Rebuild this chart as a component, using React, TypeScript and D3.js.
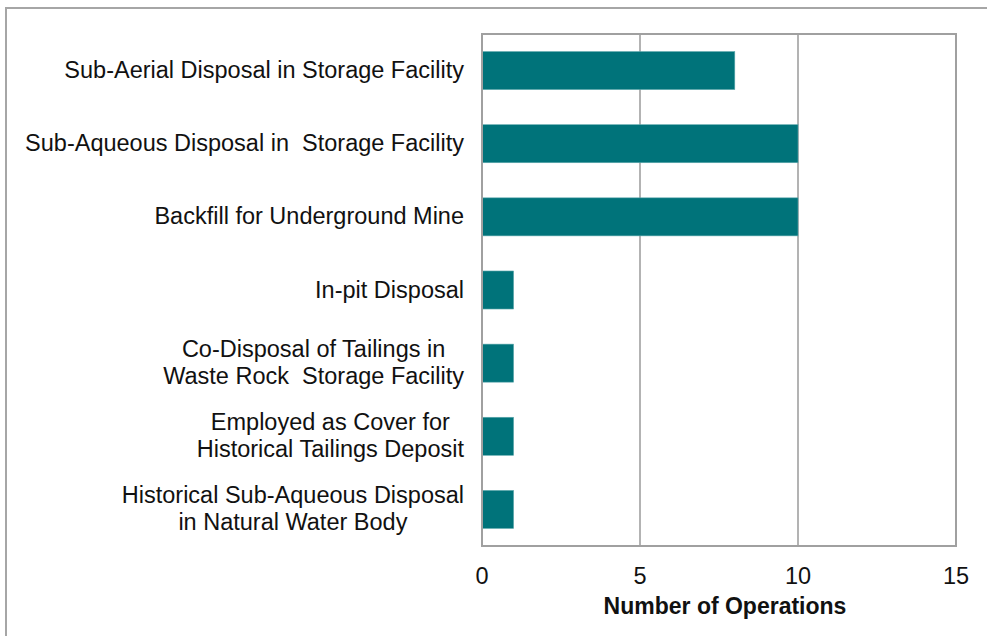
import React, { useEffect, useRef } from "react";
import * as d3 from "d3";

const categories: string[][] = [
  ["Sub-Aerial Disposal in Storage Facility"],
  ["Sub-Aqueous Disposal in  Storage Facility"],
  ["Backfill for Underground Mine"],
  ["In-pit Disposal"],
  ["Co-Disposal of Tailings in", "Waste Rock  Storage Facility"],
  ["Employed as Cover for", "Historical Tailings Deposit"],
  ["Historical Sub-Aqueous Disposal", "in Natural Water Body"],
];
const values: number[] = [8, 10, 10, 1, 1, 1, 1];
const xTicks: number[] = [0, 5, 10, 15];
const xTitle = "Number of Operations";

const W = 987;
const H = 636;
const plot = { left: 482, right: 956, top: 34, bottom: 546 };
const FONT = "'Liberation Sans', Arial, sans-serif";

export default function App() {
  const ref = useRef<SVGSVGElement>(null);

  useEffect(() => {
    const svg = d3.select(ref.current);
    svg.selectAll("*").remove();

    const x = d3.scaleLinear().domain([0, 15]).range([plot.left, plot.right]);
    const y = d3
      .scaleBand<number>()
      .domain(d3.range(categories.length))
      .range([plot.top, plot.bottom])
      .paddingInner(0.48)
      .paddingOuter(0.24);

    svg.append("rect").attr("x", 0).attr("y", 0).attr("width", W).attr("height", H).attr("fill", "#fff");
    // outer chart border
    svg
      .append("rect")
      .attr("x", 6)
      .attr("y", 8)
      .attr("width", W + 10)
      .attr("height", H + 10)
      .attr("fill", "none")
      .attr("stroke", "#a6a6a6")
      .attr("stroke-width", 2);

    // gridlines
    svg
      .append("g")
      .selectAll("line")
      .data(xTicks.filter((t) => t > 0 && t < 15))
      .join("line")
      .attr("x1", (d) => x(d))
      .attr("x2", (d) => x(d))
      .attr("y1", plot.top)
      .attr("y2", plot.bottom)
      .attr("stroke", "#a0a0a0")
      .attr("stroke-width", 1.6);

    // bars
    svg
      .append("g")
      .selectAll("rect")
      .data(values)
      .join("rect")
      .attr("x", x(0))
      .attr("y", (_d, i) => y(i)!)
      .attr("width", (d) => x(d) - x(0))
      .attr("height", y.bandwidth())
      .attr("fill", "#00737A")
      .attr("stroke", "#5fa9ad")
      .attr("stroke-width", 0.6);

    // plot border
    svg
      .append("rect")
      .attr("x", plot.left)
      .attr("y", plot.top)
      .attr("width", plot.right - plot.left)
      .attr("height", plot.bottom - plot.top)
      .attr("fill", "none")
      .attr("stroke", "#a0a0a0")
      .attr("stroke-width", 2);

    // x tick labels
    svg
      .append("g")
      .selectAll("text")
      .data(xTicks)
      .join("text")
      .attr("x", (d) => x(d))
      .attr("y", 584)
      .attr("text-anchor", "middle")
      .attr("font-family", FONT)
      .attr("font-size", 23.5)
      .attr("fill", "#111")
      .text((d) => String(d));

    svg
      .append("text")
      .attr("x", 725)
      .attr("y", 614)
      .attr("text-anchor", "middle")
      .attr("font-family", FONT)
      .attr("font-size", 23)
      .attr("font-weight", "bold")
      .attr("fill", "#111")
      .text(xTitle);

    // category labels
    const labelRight = 464;
    const lineH = 27;
    categories.forEach((lines, i) => {
      const cy = y(i)! + y.bandwidth() / 2;
      const g = svg.append("g");
      const texts = lines.map((ln, j) =>
        g
          .append("text")
          .attr("font-family", FONT)
          .attr("font-size", 23.5)
          .attr("fill", "#111")
          .attr("xml:space", "preserve")
          .style("white-space", "pre")
          .attr("y", cy + 7.5 + (j - (lines.length - 1) / 2) * lineH)
          .text(ln)
      );
      const widths = texts.map((t) => (t.node() as SVGTextElement).getComputedTextLength());
      const maxW = Math.max(...widths);
      texts.forEach((t) => t.attr("text-anchor", "middle").attr("x", labelRight - maxW / 2));
    });
  }, []);

  return (
    <svg
      ref={ref}
      width={W}
      height={H}
      style={{ position: "absolute", left: 0, top: 0, display: "block" }}
    />
  );
}
